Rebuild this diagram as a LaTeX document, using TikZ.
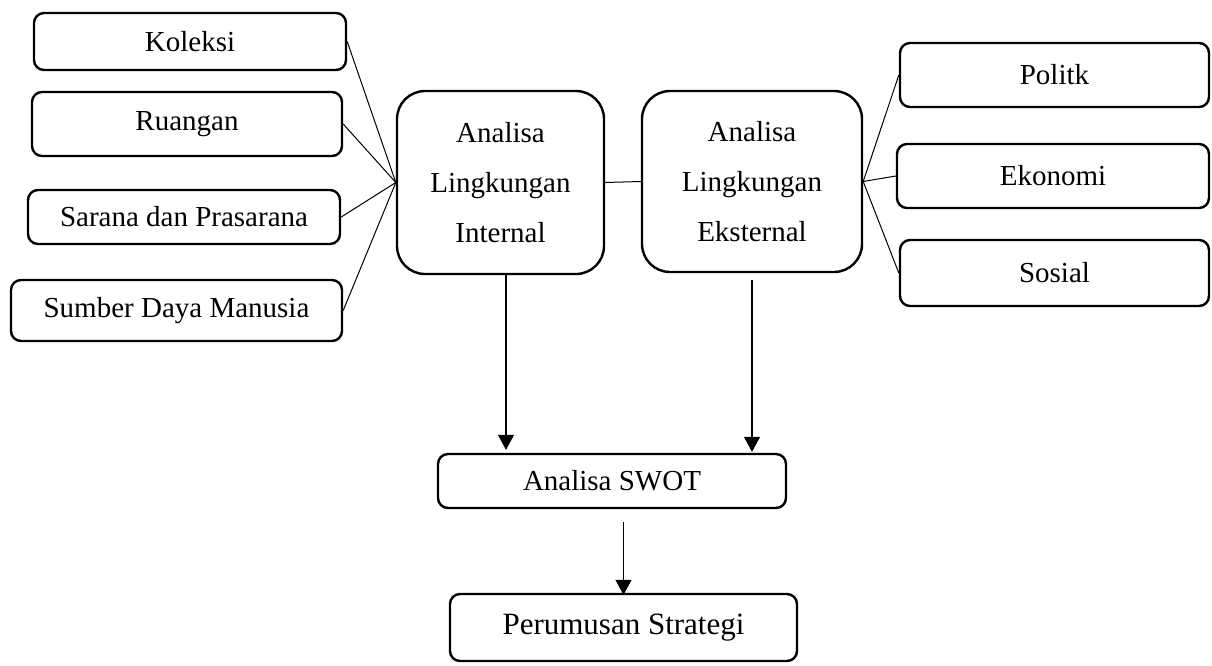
\documentclass[tikz,border=0pt]{standalone}
\usepackage{fontspec}
\setmainfont{Liberation Serif}
\usetikzlibrary{arrows.meta,calc}
\begin{document}
\begin{tikzpicture}[x=1pt,y=-1pt,
  box/.style={draw, line width=2.4pt, rounded corners=10pt, inner sep=0pt,
    font=\fontsize{29}{34}\selectfont},
  bigbox/.style={box, rounded corners=28pt, align=center,
    font=\fontsize{29}{50}\selectfont},
  link/.style={line width=1pt},
  arr/.style={line width=1.1pt, -{Triangle[width=16pt,length=15pt]}}]
\useasboundingbox (0,0) rectangle (1212,665);

% internal factors
\node[box, minimum width=312pt, minimum height=57pt] (kol) at (190,41.5) {Koleksi};
\node[box, minimum width=310pt, minimum height=64pt] (rua) at (187,124) {Ruangan};
\node[box, minimum width=312pt, minimum height=54pt] (sar) at (184,217) {Sarana dan Prasarana};
\node[box, minimum width=331pt, minimum height=61pt] (sdm) at (176.5,310.5) {Sumber Daya Manusia\hspace{14pt}};

% the two analysis blocks
\node[bigbox, minimum width=207pt, minimum height=183pt] (int) at (500.5,182.5) {Analisa\\Lingkungan\\Internal};
\node[bigbox, minimum width=220pt, minimum height=181pt] (ext) at (752,181.5) {Analisa\\Lingkungan\\Eksternal};

% external factors
\node[box, minimum width=309pt, minimum height=64pt] (pol) at (1054.5,75) {Politk};
\node[box, minimum width=312pt, minimum height=64pt] (eko) at (1053,176) {Ekonomi};
\node[box, minimum width=309pt, minimum height=66pt] (sos) at (1054.5,273) {Sosial};

% synthesis
\node[box, minimum width=348pt, minimum height=54pt] (swot) at (612,481) {Analisa SWOT};
\node[box, minimum width=347pt, minimum height=67pt, font=\fontsize{31}{36}\selectfont] (str) at (623.5,627.5) {Perumusan Strategi};

% connectors
\foreach \n in {kol,rua,sar,sdm} \draw[link] (\n.east) -- (int.west);
\foreach \n in {pol,eko,sos} \draw[link] (ext.east) -- (\n.west);
\draw[link] (int.east) -- (ext.west);

\draw[arr, shorten >=3pt] ([xshift=5.5pt]int.south) -- ([xshift=5.5pt]int.south |- swot.north);
\draw[arr, shorten <=7pt, shorten >=1pt] (ext.south) -- (ext.south |- swot.north);
\draw[arr, shorten <=13pt, shorten >=-2pt] (swot.south -| str.north) -- (str.north);
\end{tikzpicture}
\end{document}
